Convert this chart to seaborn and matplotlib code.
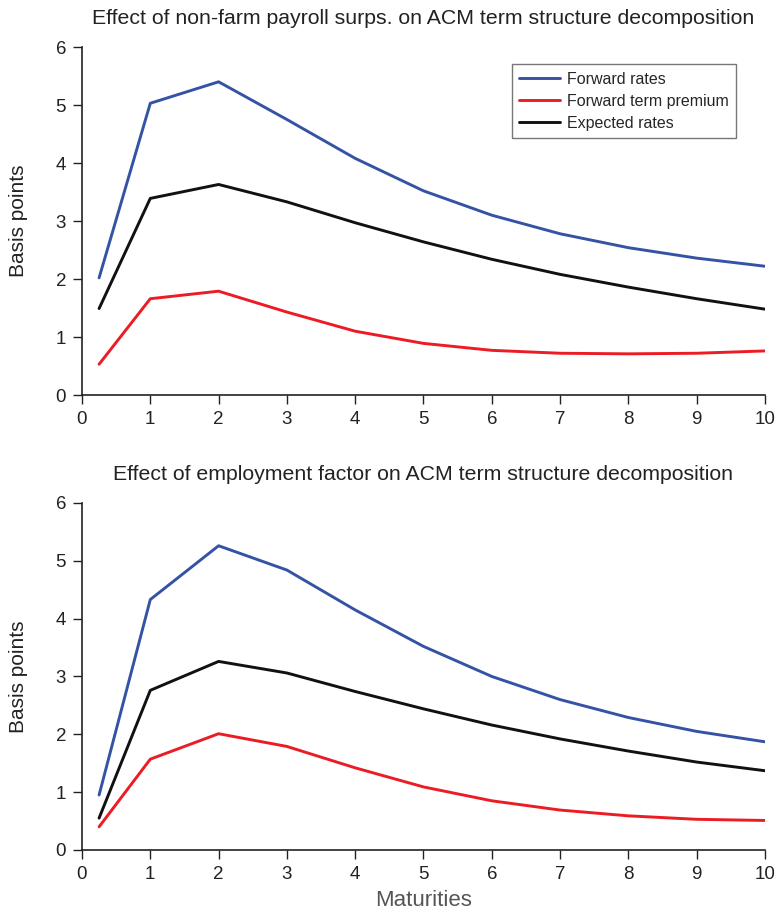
import numpy as np
import pandas as pd
import matplotlib
matplotlib.use("Agg")
import matplotlib.pyplot as plt
import seaborn as sns

maturities = [0.25, 1, 2, 3, 4, 5, 6, 7, 8, 9, 10]
series_names = ["Forward rates", "Forward term premium", "Expected rates"]

# Top panel: non-farm payroll surprises
top_forward = [2.02, 5.03, 5.40, 4.75, 4.08, 3.52, 3.10, 2.78, 2.54, 2.36, 2.22]
top_premium = [0.53, 1.66, 1.79, 1.43, 1.10, 0.89, 0.77, 0.72, 0.71, 0.72, 0.76]
top_expected = [1.49, 3.39, 3.63, 3.33, 2.97, 2.64, 2.34, 2.08, 1.86, 1.66, 1.48]

# Bottom panel: employment factor
bot_forward = [0.95, 4.33, 5.26, 4.84, 4.15, 3.52, 3.00, 2.60, 2.29, 2.05, 1.87]
bot_premium = [0.40, 1.57, 2.01, 1.79, 1.42, 1.09, 0.85, 0.69, 0.59, 0.53, 0.51]
bot_expected = [0.55, 2.76, 3.26, 3.06, 2.74, 2.44, 2.16, 1.92, 1.71, 1.52, 1.37]

titles = ["Effect of non-farm payroll surps. on ACM term structure decomposition",
          "Effect of employment factor on ACM term structure decomposition"]
x_ticks = list(range(0, 11))
y_ticks = list(range(0, 7))

colors = {"Forward rates": "#3553a4", "Forward term premium": "#ec1c24", "Expected rates": "#111111"}

sns.set_theme(style="ticks")
plt.rcParams["font.family"] = ["Liberation Sans", "DejaVu Sans"]

def make_df(fwd, prem, exp):
    rows = []
    for name, vals in zip(series_names, [fwd, prem, exp]):
        for m, v in zip(maturities, vals):
            rows.append({"Maturity": m, "Value": v, "Series": name})
    return pd.DataFrame(rows)

dfs = [make_df(top_forward, top_premium, top_expected),
       make_df(bot_forward, bot_premium, bot_expected)]

fig = plt.figure(figsize=(7.75, 9.11), dpi=100)
ax_top = fig.add_axes([0.1058, 0.5664, 0.8813, 0.3820])
ax_bot = fig.add_axes([0.1058, 0.0670, 0.8813, 0.3809])

for i, (ax, df) in enumerate(zip([ax_top, ax_bot], dfs)):
    sns.lineplot(data=df, x="Maturity", y="Value", hue="Series", hue_order=series_names,
                 palette=colors, linewidth=2.1, ax=ax, legend=(i == 0))
    ax.set_xlim(0, 10)
    ax.set_ylim(0, 6)
    ax.set_xticks(x_ticks)
    ax.set_yticks(y_ticks)
    ax.tick_params(axis="both", labelsize=13.5, length=6.5, width=1.0, colors="#222222",
                   direction="out", pad=5)
    for s in ["top", "right"]:
        ax.spines[s].set_visible(False)
    for s in ["left", "bottom"]:
        ax.spines[s].set_linewidth(1.2)
        ax.spines[s].set_color("#222222")
    ax.set_title(titles[i], fontsize=15.3, color="#222222", pad=16.5)
    ax.set_ylabel("Basis points", fontsize=15, color="#222222", labelpad=20)
    if i == 1:
        ax.set_xlabel("Maturities", fontsize=16, color="#555555", labelpad=5)
    else:
        ax.set_xlabel("")

leg = ax_top.legend(loc="upper right", bbox_to_anchor=(0.957, 0.95), fontsize=11.5,
                    frameon=True, fancybox=False, edgecolor="#555555",
                    handlelength=2.6, borderpad=0.45, labelspacing=0.45, handletextpad=0.4,
                    borderaxespad=0)
leg.get_frame().set_linewidth(1.0)

fig.savefig("out.png", dpi=100)
